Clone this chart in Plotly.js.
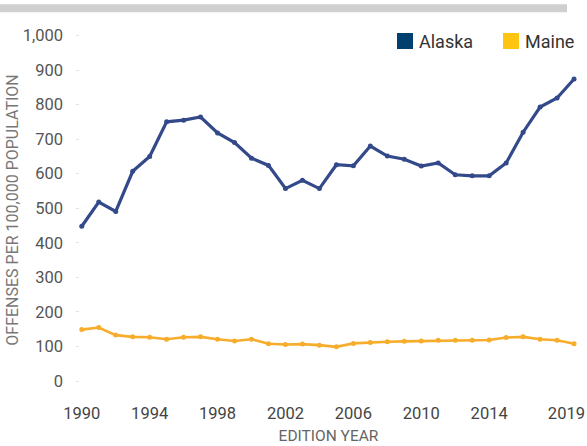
<!DOCTYPE html>
<html>
<head>
<meta charset="utf-8">
<script src="https://cdn.plot.ly/plotly-3.0.1.min.js"></script>
<style>html,body{margin:0;padding:0;background:#fff;}#chart{width:587px;height:446px;}</style>
</head>
<body>
<div id="chart"></div>
<script>
const years = [1990,1991,1992,1993,1994,1995,1996,1997,1998,1999,2000,2001,2002,2003,2004,2005,2006,2007,2008,2009,2010,2011,2012,2013,2014,2015,2016,2017,2018,2019];
const alaska = [448,518,491,607,650,750,755,764,718,690,645,624,557,581,557,626,623,680,651,642,622,631,597,594,594,631,720,793,819,874];
const maine = [149,155,133,128,127,121,127,128,121,116,121,108,106,107,104,99,109,112,114,115,116,118,118,118,119,126,128,121,118,108];
const seriesNames = ["Alaska","Maine"];
const xTickYears = [1990,1994,1998,2002,2006,2010,2014,2019];
const yTicks = [0,100,200,300,400,500,600,700,800,900,1000];
const yTickText = ["0","100","200","300","400","500","600","700","800","900","1,000"];

const lineAlaska = "#33498a";
const lineMaine = "#f7ad2b";
const legAlaska = "#003f6e";
const legMaine = "#ffc312";

// keep the last label inside the page (as in the reference)
const xTickPos = xTickYears.map(v => Math.min(v, 2018.55));

const traces = [
  {x: years, y: alaska, name: seriesNames[0], type: "scatter", mode: "lines+markers",
   line: {color: lineAlaska, width: 3.2}, marker: {color: lineAlaska, size: 5}, showlegend: false},
  {x: years, y: maine, name: seriesNames[1], type: "scatter", mode: "lines+markers",
   line: {color: lineMaine, width: 2.6}, marker: {color: lineMaine, size: 5}, showlegend: false}
];

const legendItems = [
  {name: seriesNames[0], color: legAlaska, sq: [0.6356, 0.6673], tx: 0.6772},
  {name: seriesNames[1], color: legMaine, sq: [0.8455, 0.8772], tx: 0.8871}
];

const shapes = [
  {type: "rect", xref: "paper", yref: "paper", x0: -0.1505, x1: 0.9723, y0: 1.0553, y1: 1.0778,
   fillcolor: "#cfcfcf", line: {width: 0}}
];
const annotations = [];
legendItems.forEach(it => {
  shapes.push({type: "rect", xref: "paper", yref: "paper", x0: it.sq[0], x1: it.sq[1], y0: 0.9522, y1: 0.9972,
    fillcolor: it.color, line: {width: 0}});
  annotations.push({xref: "paper", yref: "paper", x: it.tx, y: 0.9747, xanchor: "left", yanchor: "middle",
    text: it.name, showarrow: false, font: {size: 18, color: "#333"}, borderpad: 0});
});

const layout = {
  width: 587, height: 446,
  margin: {l: 76, r: 6, t: 32, b: 58},
  paper_bgcolor: "#fff", plot_bgcolor: "#fff",
  showlegend: false,
  font: {family: "Roboto, 'Liberation Sans', sans-serif", color: "#555"},
  xaxis: {
    range: [1989.66, 2019.41], tickvals: xTickPos, ticktext: xTickYears.map(String),
    showgrid: false, zeroline: false, showline: false, ticks: "",
    tickfont: {size: 16.5, color: "#444"}, ticklabelstandoff: 13,
    title: {text: "EDITION YEAR", font: {size: 15.5, color: "#666"}, standoff: 8}
  },
  yaxis: {
    range: [-20, 1010], tickvals: yTicks, ticktext: yTickText,
    showgrid: false, zeroline: false, showline: false,
    ticks: "inside", ticklen: 3, tickcolor: "#e2e2e2",
    tickfont: {size: 16.5, color: "#555"}, ticklabelstandoff: 12,
    title: {text: "OFFENSES PER 100,000 POPULATION", font: {size: 16, color: "#777"}, standoff: 0}
  },
  shapes: shapes,
  annotations: annotations
};

Plotly.newPlot("chart", traces, layout, {displayModeBar: false, staticPlot: true});
</script>
</body>
</html>
